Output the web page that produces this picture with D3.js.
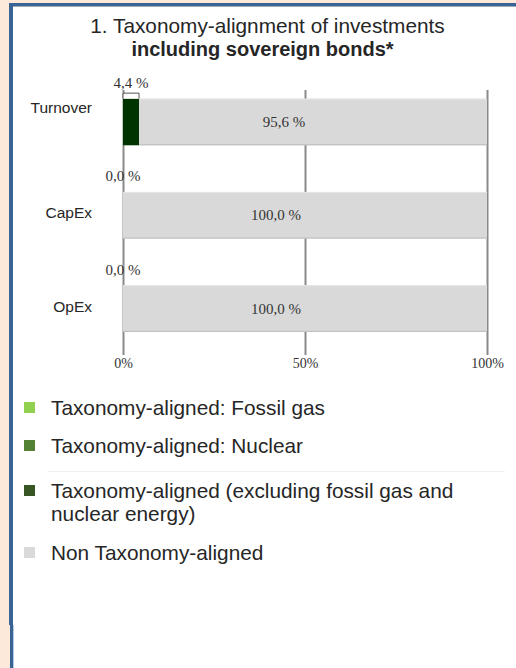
<!DOCTYPE html>
<html>
<head>
<meta charset="utf-8">
<script src="https://cdn.jsdelivr.net/npm/d3@7"></script>
<style>
  html, body { margin: 0; padding: 0; background: #fde9d9; }
  svg { display: block; }
</style>
</head>
<body>
<svg id="chart" width="516" height="668"></svg>
<script>
// ---- data ----
const categories = ["Turnover", "CapEx", "OpEx"];
const fossilGas = [0.0, 0.0, 0.0];
const nuclear = [0.0, 0.0, 0.0];
const alignedExcl = [4.4, 0.0, 0.0];
const nonAligned = [95.6, 100.0, 100.0];
const tickValues = [0, 50, 100];
const titleLine1 = "1. Taxonomy-alignment of investments";
const titleLine2 = "including sovereign bonds*";
const legendLabels = [
  ["Taxonomy-aligned: Fossil gas"],
  ["Taxonomy-aligned: Nuclear"],
  ["Taxonomy-aligned (excluding fossil gas and", "nuclear energy)"],
  ["Non Taxonomy-aligned"]
];
const legendColors = ["#92d050", "#548235", "#375623", "#dadada"];

const fmt = v => v.toFixed(1).replace(".", ",") + " %";

const svg = d3.select("#chart");

// frame
svg.append("rect").attr("x", 0).attr("y", 0).attr("width", 516).attr("height", 668).attr("fill", "#fde9d9");
svg.append("rect").attr("x", 13).attr("y", 6.5).attr("width", 503).attr("height", 662).attr("fill", "#ffffff");
svg.append("rect").attr("x", 9).attr("y", 3).attr("width", 507).attr("height", 3.5).attr("fill", "#3a6496");
svg.append("rect").attr("x", 9).attr("y", 3).attr("width", 4).attr("height", 622).attr("fill", "#3a6496");
svg.append("rect").attr("x", 10).attr("y", 625).attr("width", 3).attr("height", 43).attr("fill", "#3a6496");
svg.append("rect").attr("x", 13).attr("y", 625).attr("width", 1).attr("height", 43).attr("fill", "#b9cbe0");

// title
svg.append("text").attr("x", 267.5).attr("y", 33).attr("text-anchor", "middle")
  .attr("font-family", "Liberation Sans, Arial, sans-serif").attr("font-size", 20.8)
  .attr("fill", "#262626").text(titleLine1);
svg.append("text").attr("x", 262.5).attr("y", 56).attr("text-anchor", "middle")
  .attr("font-family", "Liberation Sans, Arial, sans-serif").attr("font-size", 20)
  .attr("font-weight", "bold").attr("fill", "#262626").text(titleLine2);

// scales
const x = d3.scaleLinear().domain([0, 100]).range([123, 487]);
const y = d3.scaleBand().domain(categories).range([52, 378.5]).padding(0.5);
const bw = y.bandwidth();

// axis with gridlines
const axisY = 355;
const axis = d3.axisBottom(x).tickValues(tickValues).tickFormat(d => d + "%")
  .tickSize(-(axisY - 90)).tickPadding(3);
const gAxis = svg.append("g").attr("transform", `translate(0,${axisY})`).call(axis);
gAxis.select(".domain").remove();
gAxis.selectAll(".tick line").attr("stroke", "#8a8a8a").attr("stroke-width", 2);
gAxis.selectAll(".tick text").attr("font-family", "Liberation Serif, Times New Roman, serif")
  .attr("font-size", 14).attr("fill", "#333");

// stacked series
const seriesData = [fossilGas, nuclear, alignedExcl, nonAligned];
const seriesColors = ["#92d050", "#548235", "#003300", "#d9d9d9"];
const stacked = categories.map((c, i) => {
  let acc = 0;
  return seriesData.map((s, k) => {
    const seg = { cat: c, i, k, x0: acc, x1: acc + s[i], v: s[i] };
    acc += s[i];
    return seg;
  });
});

const gBars = svg.append("g");
stacked.forEach(segs => {
  segs.forEach(seg => {
    if (seg.v <= 0) return;
    gBars.append("rect")
      .attr("x", x(seg.x0)).attr("y", y(seg.cat))
      .attr("width", x(seg.x1) - x(seg.x0)).attr("height", bw)
      .attr("fill", seriesColors[seg.k]);
    if (seg.k === 3) {
      gBars.append("line")
        .attr("x1", x(seg.x0)).attr("x2", x(seg.x1))
        .attr("y1", y(seg.cat) + bw - 0.5).attr("y2", y(seg.cat) + bw - 0.5)
        .attr("stroke", "#bdbdbd").attr("stroke-width", 1);
      gBars.append("line")
        .attr("x1", x(seg.x0)).attr("x2", x(seg.x1))
        .attr("y1", y(seg.cat) + 0.5).attr("y2", y(seg.cat) + 0.5)
        .attr("stroke", "#e6e6e6").attr("stroke-width", 1);
    }
  });
});

// labels for aligned segment (above bar with bracket)
const serif = "Liberation Serif, Times New Roman, serif";
stacked.forEach(segs => {
  const seg = segs[2];
  const top = y(seg.cat);
  const cx = (x(seg.x0) + x(seg.x1)) / 2;
  if (seg.v > 0) {
    svg.append("path")
      .attr("d", `M${x(seg.x0)},${top} V${top - 5.5} H${x(seg.x1)} V${top}`)
      .attr("fill", "#fff").attr("stroke", "#555").attr("stroke-width", 1);
  }
  svg.append("text").attr("x", cx).attr("y", top - 10.5).attr("text-anchor", "middle")
    .attr("font-family", serif).attr("font-size", 15).attr("fill", "#333")
    .text(fmt(seg.v));
});

// labels for non-aligned segment
stacked.forEach(segs => {
  const seg = segs[3];
  const cx = (x(seg.x0) + x(seg.x1)) / 2 - 29;
  svg.append("text").attr("x", cx).attr("y", y(seg.cat) + bw / 2 + 5)
    .attr("text-anchor", "middle")
    .attr("font-family", serif).attr("font-size", 15).attr("fill", "#333")
    .text(fmt(seg.v));
});

// category labels
categories.forEach((c, i) => {
  svg.append("text").attr("x", 92).attr("y", y(c) + bw / 2 + (i === 0 ? -9 : 3))
    .attr("text-anchor", "end")
    .attr("font-family", "Liberation Sans, Arial, sans-serif").attr("font-size", 15.5)
    .attr("fill", "#262626").text(c);
});

// legend
const legendBaselines = [415, 453, 498, 560];
const legendFont = "Liberation Sans, Arial, sans-serif";
legendLabels.forEach((lines, i) => {
  const b = legendBaselines[i];
  svg.append("rect").attr("x", 24).attr("y", b - 13).attr("width", 11).attr("height", 11)
    .attr("fill", legendColors[i]);
  const t = svg.append("text").attr("x", 51).attr("y", b)
    .attr("font-family", legendFont).attr("font-size", 20.8).attr("fill", "#262626");
  lines.forEach((ln, j) => {
    t.append("tspan").attr("x", 51).attr("dy", j === 0 ? 0 : 23).text(ln);
  });
});
svg.append("line").attr("x1", 48).attr("x2", 505).attr("y1", 471.5).attr("y2", 471.5)
  .attr("stroke", "#f0f0f0").attr("stroke-width", 1);
</script>
</body>
</html>
